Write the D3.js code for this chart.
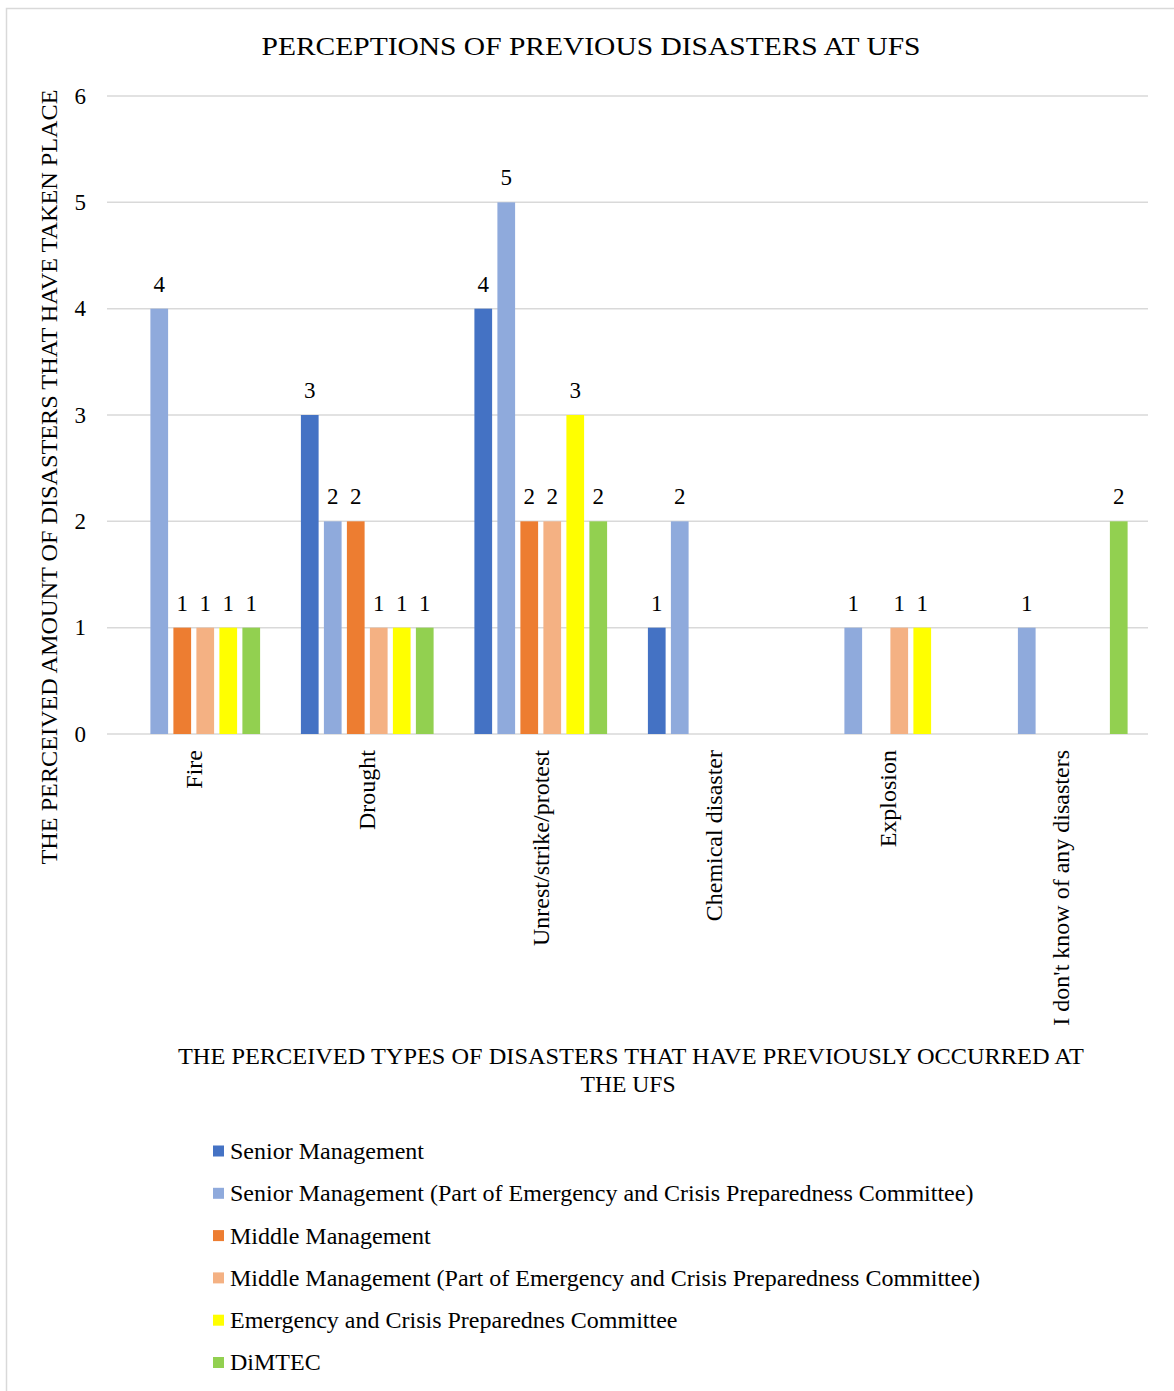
<!DOCTYPE html>
<html>
<head>
<meta charset="utf-8">
<script src="https://cdn.jsdelivr.net/npm/d3@7"></script>
<style>
  html, body { margin: 0; padding: 0; background: #fff; }
  svg { display: block; }
  text { font-family: "Liberation Serif", "Times New Roman", serif; fill: #000; }
</style>
</head>
<body>
<svg id="chart"></svg>
<script>
const categories = ["Fire", "Drought", "Unrest/strike/protest", "Chemical disaster", "Explosion", "I don't know of any disasters"]
const seriesNames = [
    "Senior Management",
    "Senior Management (Part of Emergency and Crisis Preparedness Committee)",
    "Middle Management",
    "Middle Management (Part of Emergency and Crisis Preparedness Committee)",
    "Emergency and Crisis Preparednes Committee",
    "DiMTEC"
]
const seriesColors = ["#4472C4", "#8FAADC", "#ED7D31", "#F4B183", "#FFFF00", "#92D050"]
// one array per series, in category order (null = no answer)
const seniorMgmt = [null, 3, 4, 1, null, null]
const seniorMgmtEcpc = [4, 2, 5, 2, 1, 1]
const middleMgmt = [1, 2, 2, null, null, null]
const middleMgmtEcpc = [1, 1, 2, null, 1, null]
const ecpc = [1, 1, 3, null, 1, null]
const dimtec = [1, 1, 2, null, null, 2]
const seriesValues = [seniorMgmt, seniorMgmtEcpc, middleMgmt, middleMgmtEcpc, ecpc, dimtec]
const yTicks = [0, 1, 2, 3, 4, 5, 6]

const width = 1174
const height = 1391
const plot = { left: 107, right: 1148, top: 96, bottom: 734 }

const svg = d3.select("#chart").attr("width", width).attr("height", height)

// chart frame
svg.append("rect")
    .attr("x", 6.5).attr("y", 8.5)
    .attr("width", width + 10).attr("height", height + 10)
    .attr("fill", "#fff").attr("stroke", "#d9d9d9").attr("stroke-width", 1.5)

const x0 = d3.scaleBand().domain(categories).range([plot.left, plot.right]).padding(0)
const x1 = d3.scaleBand().domain(d3.range(seriesNames.length))
    .range([20.4, x0.bandwidth() - 20.4]).paddingInner(0.23).paddingOuter(0)
const y = d3.scaleLinear().domain([0, 6]).range([plot.bottom, plot.top])

// gridlines
svg.append("g").selectAll("line").data(yTicks).join("line")
    .attr("x1", plot.left).attr("x2", plot.right)
    .attr("y1", d => y(d)).attr("y2", d => y(d))
    .attr("stroke", "#d9d9d9").attr("stroke-width", 1.5)

// y tick labels
svg.append("g").selectAll("text").data(yTicks).join("text")
    .attr("x", 86).attr("y", d => y(d))
    .attr("dy", "0.33em")
    .attr("text-anchor", "end")
    .attr("font-size", 23)
    .text(d => d)

// bars
const bars = []
categories.forEach((cat, ci) => {
    seriesValues.forEach((vals, si) => {
        if (vals[ci] != null) bars.push({ cat, si, value: vals[ci] })
    })
})

const barG = svg.append("g")
barG.selectAll("rect").data(bars).join("rect")
    .attr("x", d => x0(d.cat) + x1(d.si))
    .attr("width", x1.bandwidth())
    .attr("y", d => y(d.value))
    .attr("height", d => y(0) - y(d.value))
    .attr("fill", d => seriesColors[d.si])

barG.selectAll("text").data(bars).join("text")
    .attr("x", d => x0(d.cat) + x1(d.si) + x1.bandwidth() / 2)
    .attr("y", d => y(d.value) - 17)
    .attr("text-anchor", "middle")
    .attr("font-size", 23)
    .text(d => d.value)

// category labels, rotated
svg.append("g").selectAll("text").data(categories).join("text")
    .attr("transform", d => `translate(${x0(d) + x0.bandwidth() / 2 + 8},750) rotate(-90)`)
    .attr("text-anchor", "end")
    .attr("font-size", 24)
    .text(d => d)

// title
svg.append("text")
    .attr("x", 591).attr("y", 55)
    .attr("text-anchor", "middle")
    .attr("font-size", 25)
    .attr("textLength", 659).attr("lengthAdjust", "spacingAndGlyphs")
    .text("PERCEPTIONS OF PREVIOUS DISASTERS AT UFS")

// y axis title
svg.append("text")
    .attr("transform", "translate(57,477) rotate(-90)")
    .attr("text-anchor", "middle")
    .attr("font-size", 23)
    .attr("textLength", 775).attr("lengthAdjust", "spacingAndGlyphs")
    .text("THE PERCEIVED AMOUNT OF DISASTERS THAT HAVE TAKEN PLACE")

// x axis title
const xTitle = svg.append("text").attr("text-anchor", "middle").attr("font-size", 23)
xTitle.append("tspan").attr("x", 631).attr("y", 1064)
    .attr("textLength", 906).attr("lengthAdjust", "spacingAndGlyphs")
    .text("THE PERCEIVED TYPES OF DISASTERS THAT HAVE PREVIOUSLY OCCURRED AT")
xTitle.append("tspan").attr("x", 628).attr("y", 1092)
    .attr("textLength", 95).attr("lengthAdjust", "spacingAndGlyphs")
    .text("THE UFS")

// legend
const legend = svg.append("g").selectAll("g").data(seriesNames).join("g")
    .attr("transform", (d, i) => `translate(213,${1151 + i * 42.3})`)
legend.append("rect")
    .attr("x", 0).attr("y", -5.5).attr("width", 11).attr("height", 11)
    .attr("fill", (d, i) => seriesColors[i])
legend.append("text")
    .attr("x", 17).attr("dy", "0.33em")
    .attr("font-size", 24)
    .text(d => d)
</script>
</body>
</html>
